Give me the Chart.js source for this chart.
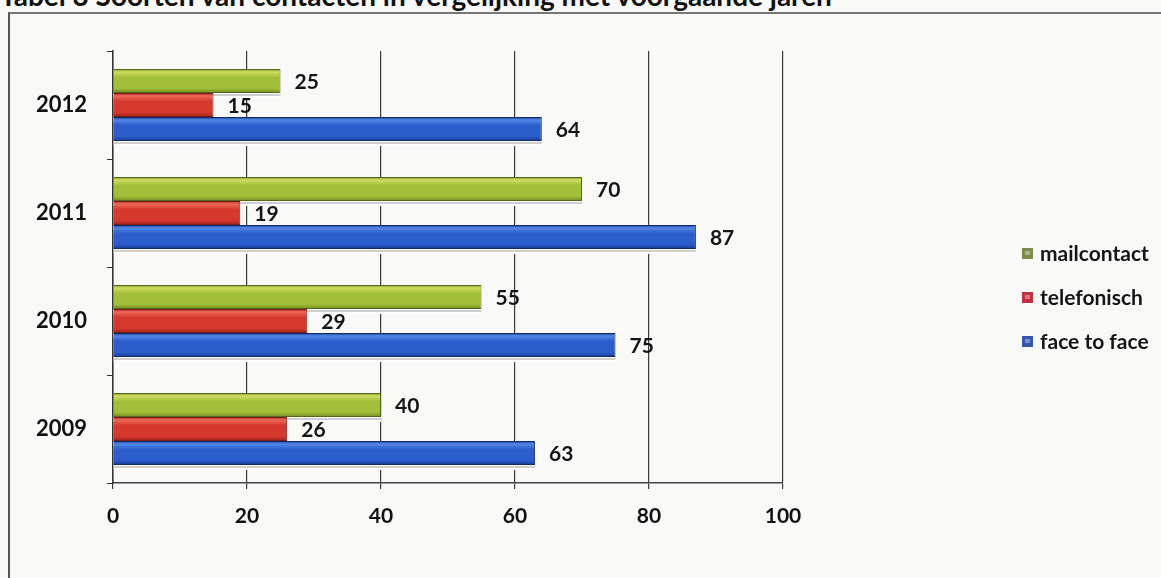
<!DOCTYPE html>
<html>
<head>
<meta charset="utf-8">
<script src="https://cdn.jsdelivr.net/npm/chart.js@4/dist/chart.umd.min.js"></script>
<style>
  html, body { margin: 0; padding: 0; background: #f9f9f8; overflow: hidden; }
  #wrap { position: relative; width: 1161px; height: 578px; }
  #title { position: absolute; left: 0px; top: -20px; font: bold 28px Lato, "Open Sans", sans-serif; color: #111; white-space: nowrap; line-height: 30px; }
  #frame { position: absolute; left: 8px; top: 12px; width: 1170px; height: 600px; border-left: 2px solid #555; border-top: 2px solid #777; box-sizing: border-box; }
  canvas { position: absolute; left: 0; top: 0; }
</style>
</head>
<body>
<div id="wrap">
  <div id="title">Tabel 3 Soorten van contacten in vergelijking met voorgaande jaren</div>
  <div id="frame"></div>
  <canvas id="c" width="1161" height="578"></canvas>
</div>
<script>
// ---- data ----
const years = ['2012', '2011', '2010', '2009'];
const mailcontact = [25, 70, 55, 40];
const telefonisch = [15, 19, 29, 26];
const faceToFace = [64, 87, 75, 63];
const seriesNames = ['mailcontact', 'telefonisch', 'face to face'];
const xTicks = [0, 20, 40, 60, 80, 100];

// ---- styles ----
const CAT_PCT = 0.667;
const palettes = [
  { top: '#d2de62', mid: '#a3bf3a', bot: '#6f8c20', border: '#55691a', legend: '#7b8c48' },
  { top: '#ec6a58', mid: '#d6392c', bot: '#9e2319', border: '#7a1a12', legend: '#c23040' },
  { top: '#5486e6', mid: '#2b5dcc', bot: '#17398f', border: '#10286c', legend: '#3457b0' }
];

function barGradient(context, dsIndex) {
  const chart = context.chart;
  const ys = chart.scales && chart.scales.y;
  const p = palettes[dsIndex];
  if (!ys || context.dataIndex === undefined || !isFinite(ys.top)) return p.mid;
  const band = (ys.bottom - ys.top) / years.length;
  const thick = band * CAT_PCT / 3;
  const center = ys.getPixelForValue(context.dataIndex);
  const top = center - band * CAT_PCT / 2 + thick * dsIndex;
  const g = chart.ctx.createLinearGradient(0, top, 0, top + thick);
  g.addColorStop(0, p.bot);
  g.addColorStop(0.12, p.top);
  g.addColorStop(0.35, p.mid);
  g.addColorStop(0.8, p.mid);
  g.addColorStop(1, p.bot);
  return g;
}

const FONT = 'Lato, "Open Sans", sans-serif';

const shadowPlugin = {
  id: 'barShadow',
  beforeDatasetsDraw(chart) {
    const ctx = chart.ctx;
    ctx.save();
    chart.data.datasets.forEach((ds, i) => {
      const meta = chart.getDatasetMeta(i);
      meta.data.forEach(el => {
        const bottom = el.y + el.height / 2;
        ctx.fillStyle = '#fdfdfd';
        ctx.fillRect(el.base, bottom, el.x - el.base, 5);
        ctx.fillStyle = 'rgba(150,150,150,0.45)';
        ctx.fillRect(el.base, bottom + 1, el.x - el.base, 2);
      });
    });
    ctx.restore();
  }
};

const labelPlugin = {
  id: 'valueLabels',
  afterDatasetsDraw(chart) {
    const ctx = chart.ctx;
    ctx.save();
    ctx.font = 'bold 21px ' + FONT;
    ctx.fillStyle = '#151515';
    ctx.textBaseline = 'middle';
    ctx.textAlign = 'left';
    chart.data.datasets.forEach((ds, i) => {
      const meta = chart.getDatasetMeta(i);
      meta.data.forEach((el, j) => {
        ctx.fillText(String(ds.data[j]), el.x + 14, el.y + 1);
      });
    });
    ctx.restore();
  }
};

const legendPlugin = {
  id: 'sideLegend',
  afterDraw(chart) {
    const ctx = chart.ctx;
    ctx.save();
    ctx.font = 'bold 21px ' + FONT;
    ctx.textBaseline = 'middle';
    ctx.textAlign = 'left';
    const x0 = 1022, y0 = 254, step = 44;
    chart.data.datasets.forEach((ds, i) => {
      const y = y0 + step * i;
      const p = palettes[i];
      ctx.fillStyle = p.legend;
      ctx.fillRect(x0, y - 6, 11, 11);
      ctx.fillStyle = 'rgba(255,255,255,0.35)';
      ctx.fillRect(x0 + 3, y - 3, 5, 4);
      ctx.fillStyle = '#151515';
      ctx.fillText(ds.label, x0 + 18, y);
    });
    ctx.restore();
  }
};

new Chart(document.getElementById('c'), {
  type: 'bar',
  data: {
    labels: years,
    datasets: [
      { label: seriesNames[0], data: mailcontact, backgroundColor: c => barGradient(c, 0), borderColor: palettes[0].border },
      { label: seriesNames[1], data: telefonisch, backgroundColor: c => barGradient(c, 1), borderColor: palettes[1].border },
      { label: seriesNames[2], data: faceToFace, backgroundColor: c => barGradient(c, 2), borderColor: palettes[2].border }
    ]
  },
  options: {
    indexAxis: 'y',
    responsive: false,
    animation: false,
    devicePixelRatio: 1,
    datasets: { bar: { barPercentage: 1.0, categoryPercentage: CAT_PCT, borderWidth: 1, borderSkipped: 'start' } },
    layout: { padding: { top: 51, right: 378, bottom: 0, left: 0 } },
    plugins: {
      legend: { display: false },
      tooltip: { enabled: false },
      title: { display: false }
    },
    scales: {
      x: {
        min: 0, max: 100,
        afterBuildTicks: s => { s.ticks = xTicks.map(v => ({ value: v })); },
        afterFit: s => { s.height = 95; },
        grid: { color: '#3a3a3a', lineWidth: 1.2, drawOnChartArea: true, drawTicks: true, tickLength: 6, tickColor: '#3a3a3a' },
        border: { color: '#444', width: 1.5 },
        ticks: { color: '#111', font: { family: FONT, size: 21, weight: 'bold' }, padding: 15 }
      },
      y: {
        afterFit: s => { s.width = 113; },
        grid: { offset: true, drawOnChartArea: false, drawTicks: true, tickLength: 6, color: '#333', tickColor: '#333' },
        border: { color: '#333', width: 1.5 },
        ticks: { color: '#111', font: { family: FONT, size: 22, weight: 'bold' }, padding: 20 }
      }
    }
  },
  plugins: [shadowPlugin, labelPlugin, legendPlugin]
});
</script>
</body>
</html>
